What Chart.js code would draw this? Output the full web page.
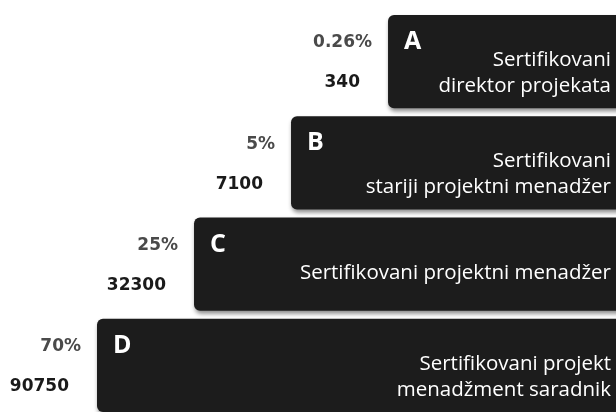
<!DOCTYPE html>
<html>
<head>
<meta charset="utf-8">
<script src="https://cdn.jsdelivr.net/npm/chart.js@4"></script>
<style>
  html, body { margin: 0; padding: 0; background: #fff; overflow: hidden; }
  #wrap { width: 616px; height: 416px; }
</style>
</head>
<body>
<div id="wrap"><canvas id="piramida" width="616" height="416"></canvas></div>
<script>
// Podaci piramide
const letters = ['A', 'B', 'C', 'D'];
const titles = [
  ['Sertifikovani', 'direktor projekata'],
  ['Sertifikovani', 'stariji projektni menadžer'],
  ['Sertifikovani projektni menadžer'],
  ['Sertifikovani projekt', 'menadžment saradnik']
];
const percents = ['0.26%', '5%', '25%', '70%'];
const counts = [340, 7100, 32300, 90750];
const levels = [1, 2, 3, 4];

// senka ispod traka
const shadowPlugin = {
  id: 'shadow',
  beforeDatasetsDraw(chart) {
    const c = chart.ctx;
    c.save();
    c.shadowColor = 'rgba(0,0,0,0.45)';
    c.shadowBlur = 4;
    c.shadowOffsetX = 1;
    c.shadowOffsetY = 3;
  },
  afterDatasetsDraw(chart) {
    chart.ctx.restore();
  }
};

// tekst na trakama i pored njih
const labelPlugin = {
  id: 'labels',
  afterDatasetsDraw(chart) {
    const c = chart.ctx;
    const meta = chart.getDatasetMeta(0);
    meta.data.forEach(function(bar, i) {
      const left = bar.base < bar.x ? bar.base : bar.x;
      const top = bar.y - bar.height / 2;
      c.save();
      c.textBaseline = 'middle';

      c.textAlign = 'right';
      c.fillStyle = '#4a4a4a';
      c.font = 'bold 17px "DejaVu Sans", Verdana, sans-serif';
      c.fillText(percents[i], left - 16, top + 28);
      c.fillStyle = '#1a1a1a';
      c.fillText(String(counts[i]), left - 28, top + 68);

      c.textAlign = 'left';
      c.fillStyle = '#fff';
      c.font = 'bold 25px "Open Sans", sans-serif';
      c.fillText(letters[i], left + 16, top + 27);

      c.textAlign = 'right';
      c.font = '20.5px "Open Sans", sans-serif';
      const lines = titles[i];
      if (lines.length === 1) {
        c.fillText(lines[0], 611, top + 56);
      } else {
        c.fillText(lines[0], 611, top + 45);
        c.fillText(lines[1], 611, top + 71);
      }
      c.restore();
    });
  }
};

const ctx = document.getElementById('piramida').getContext('2d');
const chart = new Chart(ctx, {
  type: 'bar',
  data: {
    labels: letters,
    datasets: [{
      data: levels.map(l => [5 - l, 8]),
      backgroundColor: '#1c1c1c',
      borderRadius: 6,
      borderSkipped: false,
      barPercentage: 0.92,
      categoryPercentage: 1
    }]
  },
  options: {
    indexAxis: 'y',
    responsive: false,
    animation: false,
    layout: { padding: { top: 11, bottom: 0, left: 0, right: 0 } },
    plugins: { legend: { display: false }, tooltip: { enabled: false } },
    scales: {
      x: { display: false, min: 0, max: 6.35 },
      y: { display: false }
    }
  },
  plugins: [shadowPlugin, labelPlugin]
});
</script>
</body>
</html>
